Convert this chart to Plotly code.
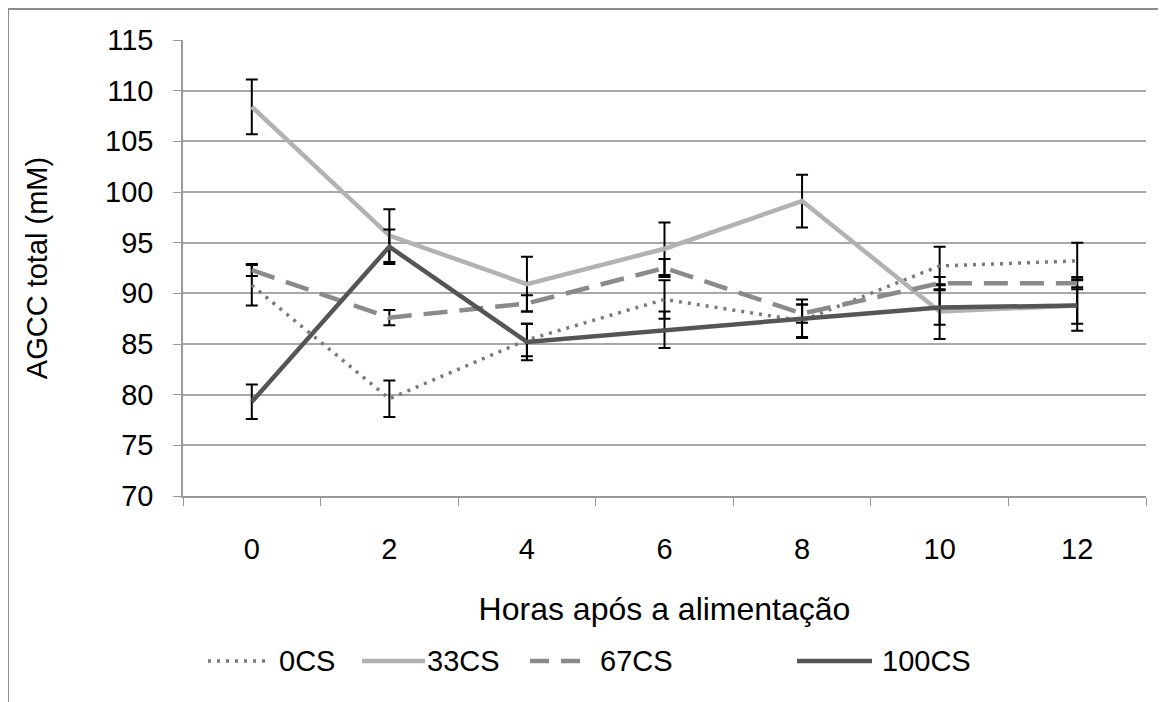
import plotly.graph_objects as go

hours = [0, 2, 4, 6, 8, 10, 12]
tick_labels = ["0", "2", "4", "6", "8", "10", "12"]

cs0 = [90.8, 79.6, 85.4, 89.4, 87.3, 92.7, 93.2]
cs0_err = [2.0, 1.8, 1.6, 1.9, 1.6, 1.9, 1.8]
cs33 = [108.4, 95.7, 90.9, 94.4, 99.1, 88.2, 88.8]
cs33_err = [2.7, 2.6, 2.7, 2.6, 2.6, 2.7, 2.5]
cs67 = [92.3, 87.6, 89.0, 92.5, 88.0, 91.0, 91.0]
cs67_err = [0.6, 0.75, 0.8, 0.9, 0.9, 0.6, 0.6]
cs100 = [79.3, 94.6, 85.2, 86.4, 87.5, 88.6, 88.8]
cs100_err = [1.7, 1.7, 1.8, 1.8, 1.9, 1.7, 1.8]

names = ["0CS", "33CS", "67CS", "100CS"]
colors = ["#7a7a7a", "#b2b2b2", "#8a8a8a", "#555555"]
widths = [3.5, 4.5, 4.5, 4.5]
dashes = ["3px,6px", "solid", "24px,12px", "solid"]
values = [cs0, cs33, cs67, cs100]
errors = [cs0_err, cs33_err, cs67_err, cs100_err]

FONT = "Liberation Sans, Arial, sans-serif"
W, H = 1158, 694
L, R, T, B = 175, 20, 32, 206
PW, PH = W - L - R, H - T - B


def px(xf):
    return (xf - L) / PW


def py(yf):
    return (H - B - yf) / PH


fig = go.Figure()
for name, vals, errs, color, w, dash in zip(names, values, errors, colors, widths, dashes):
    fig.add_trace(go.Scatter(
        x=hours, y=vals, name=name, mode="lines",
        line=dict(color=color, width=w, dash=dash),
        error_y=dict(type="data", array=errs, visible=True,
                     color="black", thickness=2, width=6),
        showlegend=False,
    ))

fig.update_layout(
    width=W, height=H,
    margin=dict(l=L, r=R, t=T, b=B),
    paper_bgcolor="white", plot_bgcolor="white",
    font=dict(family=FONT, size=29, color="black"),
    xaxis=dict(
        range=[-1, 13], tickvals=hours, ticktext=tick_labels,
        ticks="", showgrid=False, zeroline=False,
        showline=True, linecolor="#9a9a9a", linewidth=1.5,
        ticklabelstandoff=26, tickfont=dict(size=29),
        minor=dict(tick0=-1, dtick=2, ticks="outside", ticklen=8,
                   tickcolor="#9a9a9a", showgrid=False),
        title=dict(text="Horas após a alimentação", font=dict(size=32), standoff=34),
    ),
    yaxis=dict(
        range=[70, 115], dtick=5, tick0=70,
        ticks="outside", ticklen=8, tickcolor="#9a9a9a",
        showgrid=True, gridcolor="#a8a8a8", gridwidth=1.5,
        zeroline=False, showline=True, linecolor="#9a9a9a", linewidth=1.5,
        ticklabelstandoff=14, tickfont=dict(size=29),
        title=dict(text="AGCC total (mM)", font=dict(size=29), standoff=49),
    ),
)

# outer chart frame
fig.add_shape(type="rect", xref="paper", yref="paper",
              x0=px(0), x1=px(W + 20), y0=py(H + 20), y1=py(1),
              line=dict(color="#8c8c8c", width=2), layer="below")

# manual legend (samples + labels)
leg_y = py(653)
samples = [
    [(200, 257)],
    [(354, 417)],
    [(522, 541), (553, 572)],
    [(789, 864)],
]
text_x = [269, 417, 590, 872]
for name, color, w, dash, segs, tx in zip(names, colors, widths, dashes, samples, text_x):
    for x0, x1 in segs:
        fig.add_shape(type="line", xref="paper", yref="paper",
                      x0=px(x0), x1=px(x1), y0=leg_y, y1=leg_y,
                      line=dict(color=color, width=w,
                                dash=dash if dash.startswith("3px") else "solid"))
    fig.add_annotation(xref="paper", yref="paper", x=px(tx), y=leg_y,
                       text=name, showarrow=False, xanchor="left", yanchor="middle",
                       font=dict(size=29, family=FONT, color="black"))

fig.write_html("out.html")
